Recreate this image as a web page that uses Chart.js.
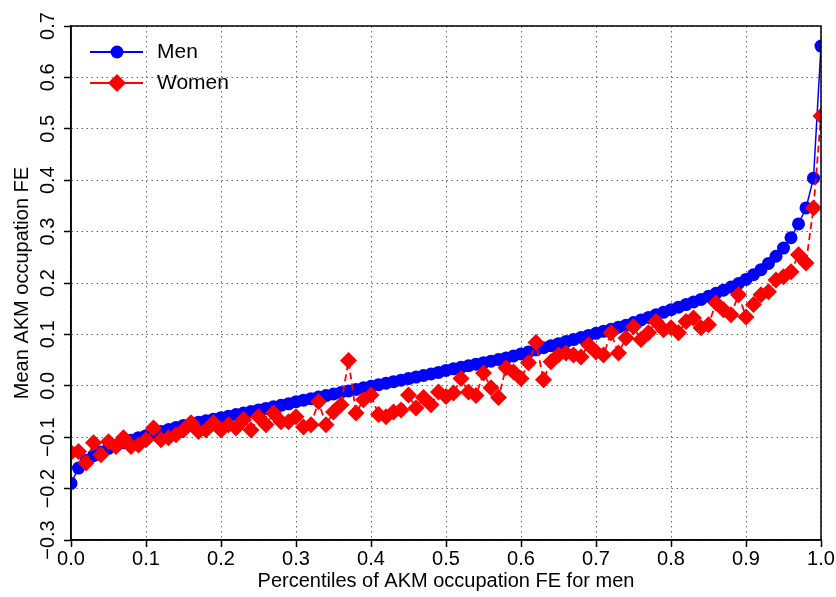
<!DOCTYPE html>
<html>
<head>
<meta charset="utf-8">
<script src="https://cdn.jsdelivr.net/npm/chart.js@4"></script>
<style>
  html, body { margin: 0; padding: 0; background: #fff; }
  canvas { display: block; }
</style>
</head>
<body>
<canvas id="chart" width="836" height="597"></canvas>
<script>
const percentiles = [
  0.00, 0.01, 0.02, 0.03, 0.04, 0.05, 0.06, 0.07, 0.08, 0.09,
  0.10, 0.11, 0.12, 0.13, 0.14, 0.15, 0.16, 0.17, 0.18, 0.19,
  0.20, 0.21, 0.22, 0.23, 0.24, 0.25, 0.26, 0.27, 0.28, 0.29,
  0.30, 0.31, 0.32, 0.33, 0.34, 0.35, 0.36, 0.37, 0.38, 0.39,
  0.40, 0.41, 0.42, 0.43, 0.44, 0.45, 0.46, 0.47, 0.48, 0.49,
  0.50, 0.51, 0.52, 0.53, 0.54, 0.55, 0.56, 0.57, 0.58, 0.59,
  0.60, 0.61, 0.62, 0.63, 0.64, 0.65, 0.66, 0.67, 0.68, 0.69,
  0.70, 0.71, 0.72, 0.73, 0.74, 0.75, 0.76, 0.77, 0.78, 0.79,
  0.80, 0.81, 0.82, 0.83, 0.84, 0.85, 0.86, 0.87, 0.88, 0.89,
  0.90, 0.91, 0.92, 0.93, 0.94, 0.95, 0.96, 0.97, 0.98, 0.99,
  1.00
];

const menFE = [
  -0.190, -0.160, -0.145, -0.136, -0.129, -0.122, -0.116, -0.111, -0.106, -0.101,
  -0.097, -0.093, -0.089, -0.085, -0.081, -0.077, -0.074, -0.071, -0.068, -0.065,
  -0.062, -0.059, -0.056, -0.053, -0.050, -0.047, -0.044, -0.041, -0.038, -0.035,
  -0.031, -0.028, -0.025, -0.022, -0.019, -0.016, -0.013, -0.010, -0.007, -0.004,
  -0.001, 0.002, 0.005, 0.008, 0.011, 0.014, 0.017, 0.020, 0.023, 0.026,
  0.030, 0.033, 0.036, 0.039, 0.042, 0.045, 0.048, 0.051, 0.054, 0.058,
  0.062, 0.066, 0.070, 0.074, 0.078, 0.082, 0.086, 0.090, 0.094, 0.098,
  0.102, 0.106, 0.110, 0.114, 0.118, 0.123, 0.128, 0.133, 0.138, 0.143,
  0.148, 0.153, 0.158, 0.163, 0.168, 0.174, 0.180, 0.186, 0.192, 0.199,
  0.207, 0.216, 0.226, 0.238, 0.252, 0.268, 0.288, 0.315, 0.346, 0.404,
  0.661
];

const womenFE = [
  -0.130, -0.128, -0.150, -0.111, -0.134, -0.109, -0.118, -0.101, -0.118, -0.115,
  -0.105, -0.082, -0.105, -0.101, -0.095, -0.086, -0.072, -0.089, -0.086, -0.072,
  -0.086, -0.076, -0.082, -0.066, -0.086, -0.060, -0.076, -0.053, -0.070, -0.070,
  -0.060, -0.080, -0.076, -0.031, -0.076, -0.051, -0.037, 0.049, -0.053, -0.027,
  -0.018, -0.056, -0.060, -0.051, -0.047, -0.018, -0.043, -0.023, -0.037, -0.012,
  -0.021, -0.014, 0.014, -0.012, -0.019, 0.025, -0.004, -0.023, 0.035, 0.027,
  0.014, 0.045, 0.084, 0.012, 0.047, 0.060, 0.064, 0.060, 0.056, 0.080,
  0.066, 0.060, 0.103, 0.064, 0.093, 0.115, 0.090, 0.103, 0.125, 0.109,
  0.113, 0.103, 0.125, 0.132, 0.113, 0.119, 0.161, 0.148, 0.138, 0.177,
  0.134, 0.158, 0.177, 0.183, 0.206, 0.212, 0.222, 0.255, 0.239, 0.346,
  0.525
];

const xTickLabels = ['0.0', '0.1', '0.2', '0.3', '0.4', '0.5', '0.6', '0.7', '0.8', '0.9', '1.0'];
const yTickLabels = ['\u22120.3', '\u22120.2', '\u22120.1', '0.0', '0.1', '0.2', '0.3', '0.4', '0.5', '0.6', '0.7'];
const seriesNames = ['Men', 'Women'];

const FONT = 'Liberation Sans, Arial, Helvetica, sans-serif';

// rotated y tick labels, axis titles, frame and legend
const decorations = {
  id: 'decorations',
  afterDraw(chart) {
    const ctx = chart.ctx;
    const area = chart.chartArea;
    const yScale = chart.scales.y;
    ctx.save();

    // frame
    ctx.strokeStyle = '#000';
    ctx.lineWidth = 1.5;
    ctx.strokeRect(area.left, area.top, area.right - area.left, area.bottom - area.top);

    // y tick labels, rotated
    ctx.fillStyle = '#000';
    ctx.font = '20px ' + FONT;
    ctx.textAlign = 'center';
    ctx.textBaseline = 'middle';
    yScale.ticks.forEach((t, i) => {
      const py = yScale.getPixelForValue(t.value);
      ctx.save();
      ctx.translate(48, py);
      ctx.rotate(-Math.PI / 2);
      ctx.fillText(yTickLabels[i], 0, 0);
      ctx.restore();
    });

    // axis titles
    ctx.font = '20px ' + FONT;
    ctx.save();
    ctx.translate(22, (area.top + area.bottom) / 2);
    ctx.rotate(-Math.PI / 2);
    ctx.fillText('Mean AKM occupation FE', 0, 0);
    ctx.restore();
    ctx.fillText('Percentiles of AKM occupation FE for men', (area.left + area.right) / 2, 581);

    // legend
    const items = [
      { name: seriesNames[0], color: '#0000ff', style: 'circle', y: 52 },
      { name: seriesNames[1], color: '#ff0000', style: 'diamond', y: 83 }
    ];
    items.forEach(it => {
      ctx.strokeStyle = it.color;
      ctx.fillStyle = it.color;
      ctx.lineWidth = 2;
      ctx.beginPath();
      ctx.moveTo(90, it.y);
      ctx.lineTo(143, it.y);
      ctx.stroke();
      ctx.beginPath();
      if (it.style === 'circle') {
        ctx.arc(117, it.y, 6.5, 0, Math.PI * 2);
      } else {
        ctx.moveTo(117, it.y - 9);
        ctx.lineTo(126, it.y);
        ctx.lineTo(117, it.y + 9);
        ctx.lineTo(108, it.y);
        ctx.closePath();
      }
      ctx.fill();
      ctx.fillStyle = '#000';
      ctx.font = '21px ' + FONT;
      ctx.textAlign = 'left';
      ctx.fillText(it.name, 157, it.y);
    });

    ctx.restore();
  }
};

const ctx = document.getElementById('chart').getContext('2d');
new Chart(ctx, {
  type: 'line',
  data: {
    datasets: [
      {
        label: seriesNames[0],
        data: percentiles.map((p, i) => ({ x: p, y: menFE[i] })),
        borderColor: '#0000ff',
        backgroundColor: '#0000ff',
        borderWidth: 1.5,
        pointStyle: 'circle',
        pointRadius: 6.5,
        pointBorderWidth: 0,
        order: 1
      },
      {
        label: seriesNames[1],
        data: percentiles.map((p, i) => ({ x: p, y: womenFE[i] })),
        borderColor: '#ff0000',
        backgroundColor: '#ff0000',
        borderWidth: 1.8,
        borderDash: [7, 4],
        pointStyle: 'rectRot',
        pointRadius: 8.5,
        pointBorderWidth: 0,
        order: 0
      }
    ]
  },
  options: {
    responsive: false,
    animation: false,
    layout: { padding: { top: 26, right: 15, left: 0, bottom: 0 } },
    plugins: {
      legend: { display: false },
      tooltip: { enabled: false }
    },
    scales: {
      x: {
        type: 'linear',
        min: 0,
        max: 1,
        afterFit: (scale) => { scale.height = 57; },
        ticks: {
          stepSize: 0.1,
          color: '#000',
          padding: 0,
          maxRotation: 0,
          font: { size: 20, family: FONT },
          callback: (v, i) => xTickLabels[i]
        },
        grid: {
          color: '#666',
          lineWidth: 1,
          tickLength: 7,
          tickColor: '#000',
          tickWidth: 1.5,
          tickBorderDash: []
        },
        border: { display: true, color: '#000', width: 1.5, dash: [1.5, 3.5] }
      },
      y: {
        type: 'linear',
        min: -0.3,
        max: 0.7,
        afterFit: (scale) => { scale.width = 71; },
        ticks: {
          stepSize: 0.1,
          color: 'rgba(0,0,0,0)',
          font: { size: 20, family: FONT }
        },
        grid: {
          color: '#666',
          lineWidth: 1,
          tickLength: 7,
          tickColor: '#000',
          tickWidth: 1.5,
          tickBorderDash: []
        },
        border: { display: true, color: '#000', width: 1.5, dash: [1.5, 3.5] }
      }
    }
  },
  plugins: [decorations]
});
</script>
</body>
</html>
